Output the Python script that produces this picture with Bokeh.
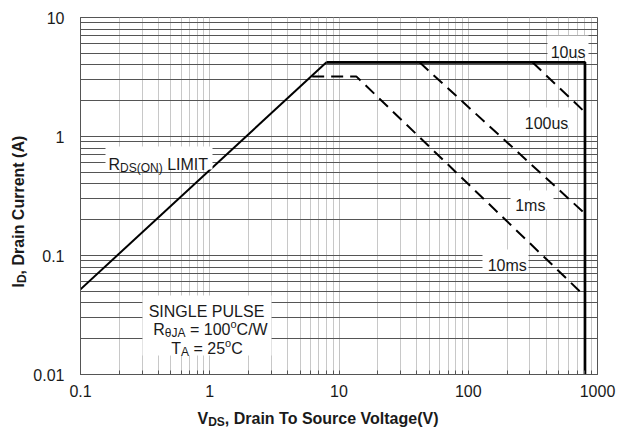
import math
from bokeh.plotting import figure
from bokeh.layouts import row, column
from bokeh.models import Range1d, FixedTicker, Label, BoxAnnotation, BasicTickFormatter
from bokeh.embed import file_html
from bokeh.resources import INLINE

# ---------------- data ----------------
x_ticks = [0.1, 1, 10, 100, 1000]
x_tick_labels = ["0.1", "1", "10", "100", "1000"]
y_ticks = [0.01, 0.1, 1, 10]
y_tick_labels = ["0.01", "0.1", "1", "10"]

rds_v = [0.1, 8.0]            # R_DS(ON) limit
rds_i = [0.052, 4.2]
us10_v = [8.0, 800.0, 800.0]  # 10us (solid)
us10_i = [4.2, 4.2, 0.01]
us100_v = [314.0, 800.0]      # 100us
us100_i = [4.2, 1.6]
ms1_v = [42.0, 800.0]         # 1ms
ms1_i = [4.2, 0.225]
ms10_v = [6.2, 13.6, 730.0]   # 10ms
ms10_i = [3.2, 3.2, 0.05]

# ---------------- helpers ----------------
FONT = "Liberation Sans"
TXT = "#1a1a1a"

W_REG = {' ': 278, '.': 278, ',': 278, '=': 584, '(': 333, ')': 333, '/': 278,
         'A': 667, 'C': 722, 'D': 722, 'E': 667, 'G': 778, 'I': 278, 'J': 500,
         'L': 556, 'M': 833, 'N': 722, 'O': 778, 'P': 667, 'R': 722, 'S': 667,
         'T': 611, 'U': 722, 'V': 667, 'W': 944, 'o': 556, 'θ': 556}
W_BOLD = {' ': 278, ',': 278, '(': 333, ')': 333, 'A': 722, 'C': 722, 'D': 722,
          'I': 278, 'S': 667, 'T': 611, 'V': 667, 'a': 556, 'c': 556, 'e': 556,
          'g': 611, 'i': 278, 'l': 278, 'n': 611, 'o': 611, 'r': 389, 't': 333,
          'u': 611}


def text_w(t, size, bold=False):
    table = W_BOLD if bold else W_REG
    return sum(table.get(c, 556) for c in t) * size / 1000.0


# canvas pixel -> data (main plot frame spans x 80..597, y 17..374)
def dx(px):
    return 10 ** (-1 + (px - 80) / 129.25)


def dy(py):
    return 10 ** (1 - (py - 17) / 119.0)


def ident(v):
    return v


def rich(fig, pieces, px, py, fx=dx, fy=dy, anchor="left", angle=0.0, bold=False):
    widths = [text_w(t, s, bold) for t, s, _ in pieces]
    total = sum(widths)
    cur = -total / 2.0 if anchor == "center" else 0.0
    for (t, s, shift), w in zip(pieces, widths):
        stripped = t.lstrip(" ")
        lead = text_w(t[:len(t) - len(stripped)], s, bold)
        pos = cur + lead
        if angle == 0:
            xo, yo = pos, shift
        else:
            xo, yo = -shift, pos
        fig.add_layout(Label(x=fx(px), y=fy(py), x_offset=xo, y_offset=yo,
                             text=stripped, text_font_size=f"{s}px", text_font=FONT,
                             text_font_style="bold" if bold else "normal",
                             text_color=TXT, text_align="left",
                             text_baseline="alphabetic", angle=angle))
        cur += w


# ---------------- main plot ----------------
p = figure(width=589, height=406, x_axis_type="log", y_axis_type="log",
           x_range=Range1d(0.1, 1000), y_range=Range1d(0.01, 10),
           output_backend="svg", toolbar_location=None, title=None,
           min_border_left=51, min_border_right=21, min_border_top=17,
           min_border_bottom=32)
p.background_fill_color = "white"
p.border_fill_color = "white"
p.outline_line_color = "#555555"
p.outline_line_width = 1


def minors(ticks):
    out = []
    for t in ticks[:-1]:
        for k in range(2, 10):
            out.append(t * k)
    return out


p.xaxis.ticker = FixedTicker(ticks=x_ticks, minor_ticks=minors(x_ticks))
p.yaxis.ticker = FixedTicker(ticks=y_ticks, minor_ticks=minors(y_ticks))
p.xaxis.formatter = BasicTickFormatter()
p.yaxis.formatter = BasicTickFormatter()
p.xaxis.major_label_overrides = {t: l for t, l in zip(x_ticks, x_tick_labels)}
p.yaxis.major_label_overrides = {t: l for t, l in zip(y_ticks, y_tick_labels)}

for ax in (p.xaxis, p.yaxis):
    ax.axis_line_color = "#555555"
    ax.major_tick_in = 4
    ax.major_tick_out = 0
    ax.minor_tick_in = 4
    ax.minor_tick_out = 0
    ax.major_tick_line_color = "#555555"
    ax.minor_tick_line_color = "#555555"
    ax.major_label_text_font = FONT
    ax.major_label_text_font_size = "16px"
    ax.major_label_text_color = TXT
p.xaxis.major_label_standoff = 10
p.yaxis.major_label_standoff = 16

p.xgrid.grid_line_color = "#c4c4c4"
p.xgrid.minor_grid_line_color = "#c8c8c8"
p.ygrid.grid_line_color = "#555555"
p.ygrid.minor_grid_line_color = "#555555"

# curves
p.line(rds_v, rds_i, line_color="black", line_width=2)
p.line(us10_v, us10_i, line_color="black", line_width=2.7)
p.line(us100_v, us100_i, line_color="black", line_width=2, line_dash="12 7")
p.line(ms1_v, ms1_i, line_color="black", line_width=2, line_dash="12 7")
p.line(ms10_v, ms10_i, line_color="black", line_width=2, line_dash="12 7")


def box(l, r, t, b):
    p.add_layout(BoxAnnotation(left=dx(l), right=dx(r), top=dy(t), bottom=dy(b),
                               fill_color="white", fill_alpha=1.0,
                               line_color=None))


box(547, 588, 35, 56)
box(522, 571, 107, 127)
box(510, 553, 190, 209)
box(482, 528, 249, 269)
box(105, 212, 146, 169)
box(142, 271, 295, 355)

rich(p, [("10us", 16, 0)], 568, 52, anchor="center")
rich(p, [("100us", 16, 0)], 546.5, 123, anchor="center")
rich(p, [("1ms", 16, 0)], 528, 205, anchor="center")
rich(p, [("10ms", 16, 0)], 505, 265, anchor="center")

rich(p, [("R", 16, 0), ("DS(ON)", 12, -3), (" LIMIT", 16, 0)], 108, 164)

rich(p, [("SINGLE PULSE", 16, 0)], 206, 311, anchor="center")
rich(p, [("R", 16, 0), ("θJA", 12, -3), (" = 100", 16, 0), ("o", 11, 6),
         ("C/W", 16, 0)], 210, 329, anchor="center")
rich(p, [("T", 16, 0), ("A", 12, -3), (" = 25", 16, 0), ("o", 11, 6),
         ("C", 16, 0)], 206.5, 348, anchor="center")


# ---------------- axis title panels ----------------
def blank(w, h, xr, yr):
    f = figure(width=w, height=h, x_range=Range1d(*xr), y_range=Range1d(*yr),
               x_axis_location=None, y_axis_location=None, title=None,
               output_backend="svg", toolbar_location=None,
               min_border=0, min_border_left=0, min_border_right=0,
               min_border_top=0, min_border_bottom=0)
    f.outline_line_color = None
    f.background_fill_color = "white"
    f.border_fill_color = "white"
    f.grid.visible = False
    return f


# the left strip's frame is aligned with the main frame (page y 17..374)
fy_t = blank(29, 406, (0, 29), (374, 17))
rich(fy_t, [("I", 16, 0), ("D", 12, -3), (", Drain Current (A)", 16, 0)],
     18, 287, fx=ident, fy=ident, angle=math.pi / 2, bold=True)

fx_t = blank(618, 23, (0, 618), (429, 406))
rich(fx_t, [("V", 16, 0), ("DS", 12, -3), (", Drain To Source Voltage(V)", 16, 0)],
     197, 418, fx=ident, fy=ident, bold=True)

layout = column(row(fy_t, p, spacing=0), fx_t, spacing=0)

open("out.html", "w").write(file_html(layout, INLINE))
